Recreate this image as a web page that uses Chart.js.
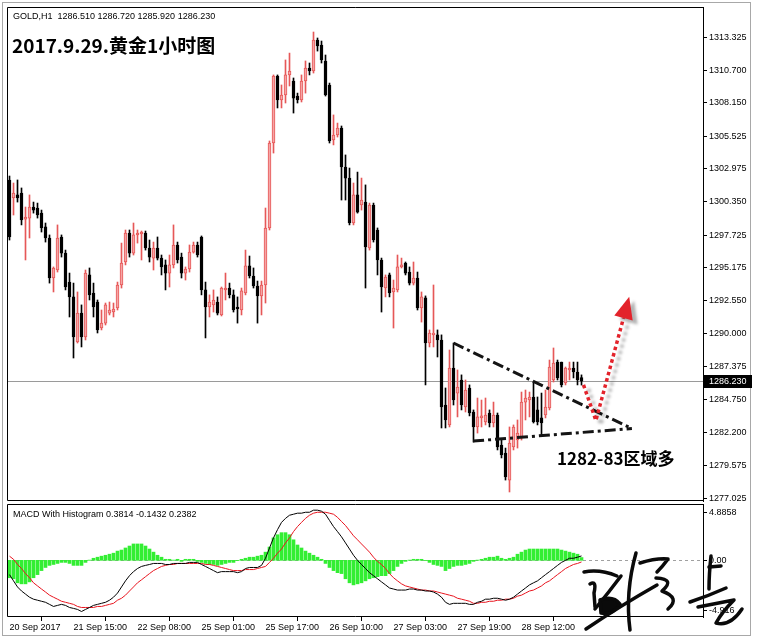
<!DOCTYPE html>
<html><head><meta charset="utf-8">
<script src="https://cdn.jsdelivr.net/npm/chart.js@4.4.1/dist/chart.umd.min.js"></script>
<style>
html,body{margin:0;padding:0;background:#fff;width:758px;height:644px;overflow:hidden}
#frame{position:absolute;left:2px;top:2px;width:749px;height:634px;border:1px solid #a8a8a8;box-sizing:border-box}
#w1{position:absolute;left:0;top:0;width:758px;height:502px}
#w2{position:absolute;left:0;top:502px;width:758px;height:142px}
</style></head><body>
<div id="frame"></div>
<div id="w1"><canvas id="c1"></canvas></div>
<div id="w2"><canvas id="c2"></canvas></div>
<script>
// ---------- DATA ----------
const opens = [1302.07,1300.65,1300.89,1301.04,1298.99,1299.07,1299.94,1299.86,1299.46,1298.37,
1297.50,1294.35,1294.98,1297.58,1296.31,1294.03,1292.86,1289.31,1291.59,1289.71,
1294.59,1293.17,1292.46,1290.41,1290.80,1291.59,1291.67,1291.99,1293.80,1295.61,
1297.89,1296.31,1297.74,1297.82,1297.89,1296.71,1295.92,1296.71,1295.92,1295.38,
1294.74,1295.38,1296.95,1296.00,1294.74,1295.06,1296.39,1296.95,1297.58,1293.41,
1292.07,1292.23,1292.46,1291.44,1293.41,1293.56,1293.02,1292.07,1291.83,1293.17,
1295.30,1294.51,1293.72,1292.94,1293.80,1298.29,1304.98,1310.26,1308.37,1308.76,
1310.34,1309.86,1308.68,1308.37,1309.86,1310.89,1310.65,1313.09,1312.70,1311.44,
1309.55,1305.22,1305.61,1306.16,1303.09,1302.22,1298.68,1300.89,1300.10,1300.33,
1296.71,1300.10,1298.13,1295.77,1293.56,1294.59,1293.25,1293.41,1295.22,1295.53,
1294.82,1293.95,1294.35,1291.99,1292.78,1289.23,1289.87,1289.87,1289.47,1284.35,
1282.78,1287.26,1285.29,1286.32,1284.19,1285.69,1283.80,1282.62,1283.33,1283.01,
1283.72,1282.93,1283.56,1281.20,1280.57,1278.44,1281.04,1281.59,1281.83,1284.58,
1284.74,1284.98,1283.96,1283.33,1283.56,1284.11,1286.32,1287.73,1287.73,1286.08,
1287.11,1287.26,1286.95,1286.51];
const highs = [1302.38,1301.83,1302.07,1301.44,1299.94,1300.89,1300.33,1300.25,1299.70,1298.68,
1297.74,1295.22,1298.53,1297.74,1296.55,1294.74,1293.95,1293.25,1292.23,1294.98,
1295.14,1293.95,1292.62,1291.83,1292.38,1292.46,1292.38,1294.03,1297.10,1298.13,
1298.13,1298.68,1298.13,1298.05,1298.05,1297.34,1297.18,1297.58,1296.16,1295.77,
1296.16,1298.53,1297.18,1296.31,1295.22,1296.95,1297.18,1297.18,1297.66,1294.03,
1293.02,1293.41,1292.86,1293.64,1294.74,1293.95,1293.41,1292.86,1293.56,1296.55,
1296.08,1295.14,1294.11,1294.11,1299.86,1305.14,1310.34,1310.34,1309.55,1311.52,
1312.06,1310.10,1308.91,1310.34,1311.44,1311.28,1313.72,1313.25,1313.01,1311.91,
1309.70,1307.19,1306.55,1306.32,1304.04,1303.01,1301.83,1302.69,1302.22,1301.68,
1300.25,1300.25,1298.29,1295.92,1294.59,1294.74,1294.19,1296.16,1295.92,1295.61,
1295.22,1295.61,1294.82,1293.25,1292.94,1290.26,1293.80,1290.26,1289.87,1285.69,
1288.68,1289.23,1287.11,1286.72,1286.32,1285.93,1283.96,1284.90,1284.74,1284.90,
1283.96,1284.58,1283.72,1281.59,1280.96,1282.62,1282.78,1283.17,1285.37,1285.53,
1285.37,1286.16,1284.98,1285.29,1285.53,1287.89,1288.84,1287.89,1287.73,1287.34,
1287.73,1287.73,1287.73,1286.72];
const lows = [1297.34,1299.31,1300.33,1298.53,1295.77,1297.50,1299.46,1299.07,1297.97,1297.18,
1293.95,1293.25,1294.82,1296.00,1293.41,1291.28,1288.05,1289.23,1288.92,1289.47,
1292.62,1291.28,1290.02,1290.26,1290.65,1291.44,1291.28,1291.83,1293.56,1295.38,
1296.00,1296.16,1297.10,1295.77,1296.55,1295.61,1294.98,1295.77,1294.59,1293.41,
1293.64,1295.14,1295.53,1294.35,1294.19,1294.82,1296.31,1296.00,1293.02,1289.63,
1291.28,1291.67,1291.44,1291.36,1292.62,1292.78,1291.67,1290.80,1291.44,1293.02,
1294.35,1293.56,1290.80,1291.44,1292.38,1298.13,1304.19,1307.74,1307.74,1308.13,
1309.47,1307.34,1308.13,1308.21,1308.91,1310.34,1310.49,1312.22,1311.28,1308.68,
1304.98,1304.83,1305.45,1300.49,1300.49,1298.53,1298.53,1299.46,1299.70,1293.56,
1296.55,1297.18,1294.59,1291.67,1292.86,1292.86,1290.41,1293.25,1295.14,1294.59,
1293.80,1293.80,1291.83,1290.88,1285.93,1288.92,1288.92,1288.13,1282.54,1282.54,
1282.62,1284.35,1283.41,1283.96,1283.80,1283.49,1281.43,1282.14,1282.62,1282.78,
1282.62,1282.62,1280.81,1280.18,1278.44,1277.50,1280.81,1280.96,1281.59,1283.17,
1283.41,1282.93,1282.78,1282.00,1283.33,1283.96,1286.16,1286.32,1285.77,1285.93,
1286.32,1286.48,1285.93,1285.92];
const closes = [1297.58,1301.04,1300.65,1298.92,1299.15,1299.94,1299.70,1299.31,1298.29,1297.50,
1294.35,1295.14,1297.50,1296.31,1293.64,1292.86,1289.71,1291.59,1289.71,1294.74,
1293.02,1292.07,1290.26,1290.80,1292.23,1291.83,1291.91,1293.80,1295.53,1297.89,
1296.31,1297.74,1297.89,1297.97,1296.71,1296.00,1296.71,1295.92,1295.22,1294.74,
1295.38,1296.95,1295.77,1294.74,1295.06,1296.39,1296.95,1296.16,1293.41,1292.07,
1292.46,1292.62,1291.59,1293.56,1293.56,1293.02,1291.83,1291.91,1293.33,1295.30,
1294.51,1293.72,1292.94,1293.80,1298.29,1304.98,1310.26,1308.37,1308.76,1310.34,
1310.65,1308.52,1308.37,1309.86,1310.89,1310.65,1313.09,1312.62,1311.52,1308.76,
1305.14,1305.61,1306.16,1303.09,1302.22,1298.68,1300.89,1299.54,1300.49,1296.79,
1300.10,1297.34,1295.77,1293.64,1294.43,1293.17,1293.56,1295.22,1295.38,1294.74,
1293.95,1294.35,1291.99,1292.86,1289.23,1290.02,1290.02,1289.47,1284.19,1283.17,
1287.26,1284.74,1285.77,1284.35,1285.53,1283.72,1282.62,1283.41,1283.49,1283.56,
1282.93,1283.56,1281.04,1280.42,1278.68,1281.35,1282.62,1282.14,1284.58,1284.90,
1284.98,1283.01,1283.01,1282.93,1284.19,1287.34,1287.65,1286.48,1285.93,1287.26,
1287.26,1286.95,1286.32,1286.23];

const macdLine = [-1.24,-1.78,-2.31,-2.66,-2.93,-3.20,-3.37,-3.46,-3.55,-3.64,
-3.82,-4.00,-3.91,-3.82,-3.91,-4.09,-4.17,-4.26,-4.44,-4.26,
-4.09,-3.91,-3.82,-3.73,-3.64,-3.46,-3.20,-2.84,-2.31,-1.78,
-1.33,-0.98,-0.71,-0.53,-0.44,-0.36,-0.27,-0.27,-0.27,-0.36,
-0.36,-0.27,-0.27,-0.27,-0.27,-0.18,-0.18,-0.18,-0.36,-0.53,
-0.71,-0.89,-1.07,-0.98,-0.98,-0.98,-0.98,-1.07,-0.98,-0.71,
-0.62,-0.62,-0.62,-0.44,0.18,1.07,1.95,2.66,3.29,3.64,
3.91,4.00,4.09,4.09,4.17,4.17,4.35,4.35,4.26,4.00,
3.46,2.93,2.49,2.04,1.51,0.98,0.44,0.00,-0.36,-0.71,
-1.07,-1.33,-1.60,-1.87,-2.13,-2.40,-2.49,-2.58,-2.58,-2.58,
-2.49,-2.49,-2.58,-2.58,-2.66,-2.66,-2.75,-2.93,-3.20,-3.64,
-3.82,-3.73,-3.73,-3.73,-3.73,-3.82,-3.82,-3.64,-3.55,-3.37,
-3.37,-3.29,-3.29,-3.37,-3.46,-3.37,-3.20,-2.93,-2.66,-2.40,
-2.13,-1.95,-1.78,-1.51,-1.24,-0.98,-0.71,-0.44,-0.18,0.00,
0.18,0.18,0.27,0.38];
const signalLine = [0.36,0.09,-0.36,-0.71,-1.15,-1.51,-1.95,-2.22,-2.49,-2.75,
-3.02,-3.20,-3.37,-3.55,-3.64,-3.73,-3.82,-4.00,-4.09,-4.09,
-4.09,-4.09,-4.00,-4.00,-3.91,-3.82,-3.73,-3.46,-3.29,-3.02,
-2.66,-2.31,-1.95,-1.69,-1.42,-1.15,-0.89,-0.71,-0.53,-0.44,
-0.36,-0.36,-0.27,-0.27,-0.27,-0.27,-0.27,-0.27,-0.27,-0.36,
-0.36,-0.44,-0.53,-0.62,-0.71,-0.80,-0.89,-0.89,-0.89,-0.80,
-0.80,-0.80,-0.71,-0.62,-0.53,-0.18,0.18,0.62,0.98,1.51,
1.95,2.49,2.93,3.29,3.64,3.91,4.09,4.17,4.17,4.17,
4.09,4.00,3.73,3.37,3.02,2.58,2.13,1.78,1.42,1.07,
0.71,0.27,-0.09,-0.36,-0.71,-1.15,-1.51,-1.78,-2.04,-2.22,
-2.31,-2.40,-2.49,-2.58,-2.58,-2.66,-2.66,-2.75,-2.84,-2.93,
-3.02,-3.11,-3.29,-3.37,-3.46,-3.55,-3.73,-3.73,-3.64,-3.64,
-3.55,-3.55,-3.46,-3.46,-3.37,-3.37,-3.29,-3.11,-3.02,-2.84,
-2.66,-2.58,-2.40,-2.22,-1.95,-1.78,-1.51,-1.24,-0.98,-0.71,
-0.53,-0.36,-0.27,-0.14];
const histogram = [-1.51,-1.60,-1.95,-2.04,-2.04,-1.87,-1.51,-1.24,-0.89,-0.62,
-0.44,-0.36,-0.27,-0.18,-0.18,-0.27,-0.44,-0.44,-0.44,-0.18,
0.02,0.18,0.27,0.36,0.44,0.53,0.62,0.80,0.89,1.07,
1.24,1.42,1.42,1.42,1.24,0.98,0.71,0.44,0.27,0.09,
0.09,0.02,0.09,-0.09,0.09,0.09,0.09,-0.09,-0.18,-0.27,
-0.36,-0.36,-0.44,-0.36,-0.27,-0.18,-0.18,-0.02,0.09,0.18,
0.27,0.27,0.36,0.44,0.71,1.15,1.95,2.22,2.40,2.40,
2.22,1.78,1.33,1.07,0.80,0.62,0.44,0.27,0.09,-0.27,
-0.62,-0.89,-1.07,-1.15,-1.60,-1.95,-2.13,-2.04,-1.95,-1.78,
-1.60,-1.51,-1.42,-1.33,-1.33,-1.15,-0.89,-0.53,-0.27,-0.09,
0.02,0.09,0.09,0.09,-0.02,-0.18,-0.36,-0.44,-0.53,-0.89,
-0.71,-0.53,-0.44,-0.44,-0.36,-0.27,-0.09,0.02,0.09,0.18,
0.27,0.27,0.36,0.18,0.09,0.18,0.27,0.53,0.71,0.89,
0.98,0.98,0.98,0.98,0.98,0.98,0.98,0.98,0.89,0.80,
0.71,0.62,0.53,0.24];

const priceTicks = [1313.325,1310.700,1308.150,1305.525,1302.975,1300.350,1297.725,1295.175,
1292.550,1290.000,1287.375,1284.750,1282.200,1279.575,1277.025];
const timeTickIndex = [0,16,32,48,64,80,96,112,128];
const timeTickLabels = ['20 Sep 2017','21 Sep 15:00','22 Sep 08:00','25 Sep 01:00','25 Sep 17:00',
'26 Sep 10:00','27 Sep 03:00','27 Sep 19:00','28 Sep 12:00'];
const lastPrice = 1286.230;
const headerText = 'GOLD,H1  1286.510 1286.720 1285.920 1286.230';
const titleText = '2017.9.29.黄金1小时图';
const noteText = '1282-83区域多';
const macdTitle = 'MACD With Histogram 0.3814 -0.1432 0.2382';
const macdMax = 4.8858, macdMin = -4.916;
const macdAxisLabels = ['4.8858', '0.00', '-4.916'];
const priceMin = 1276.79, priceMax = 1315.69;
const xMin = -0.625, xMax = 173.375;
// annotation anchors (bar index, price)
const trendUpper = [{x:111, y:1289.23}, {x:155.6, y:1282.50}];
const trendLower = [{x:115.9, y:1281.51}, {x:155.6, y:1282.50}];
const arrowPath = [{x:143.5, y:1285.93}, {x:146.6, y:1283.13}, {x:153.5, y:1291.20}];

// ---------- STYLE ----------
const FAM = '"Liberation Sans", Arial, sans-serif';
const SMALL = '9px ' + FAM;
const CJK = '"Noto Sans CJK SC", "Liberation Sans", sans-serif';
const BULL_FILL = '#f5a5a5', BULL_LINE = '#e65858', BEAR = '#000000';

const idx = opens.map((_, i) => i);
const bull = idx.map(i => closes[i] >= opens[i]);

const shadowPlugin = {
  id: 'shadow',
  beforeDatasetDraw(chart, args) {
    const ds = chart.data.datasets[args.index];
    if (ds.shadow) {
      const ctx = chart.ctx; ctx.save();
      ctx.shadowColor = 'rgba(0,0,0,0.30)'; ctx.shadowOffsetX = 5; ctx.shadowOffsetY = 4; ctx.shadowBlur = 3;
    }
  },
  afterDatasetDraw(chart, args) {
    const ds = chart.data.datasets[args.index];
    if (!ds.shadow) return;
    const ctx = chart.ctx;
    if (ds.arrowHead) {
      const pts = chart.getDatasetMeta(args.index).data;
      const p1 = pts[pts.length - 2], p2 = pts[pts.length - 1];
      const ang = Math.atan2(p2.y - p1.y, p2.x - p1.x);
      const L = 22, W = 9.5;
      const cx = Math.cos(ang), sy = Math.sin(ang);
      ctx.fillStyle = ds.borderColor;
      ctx.beginPath();
      ctx.moveTo(p2.x + L * cx, p2.y + L * sy);
      ctx.lineTo(p2.x - W * sy, p2.y + W * cx);
      ctx.lineTo(p2.x + W * sy, p2.y - W * cx);
      ctx.closePath(); ctx.fill();
    }
    ctx.restore();
  }
};

const pricePlugin = {
  id: 'priceDeco',
  beforeDatasetsDraw(chart) {
    const {ctx, chartArea: a, scales: {y}} = chart;
    const py = Math.round(y.getPixelForValue(lastPrice)) + 0.5;
    ctx.save(); ctx.strokeStyle = '#9a9a9a'; ctx.lineWidth = 1;
    ctx.beginPath(); ctx.moveTo(a.left, py); ctx.lineTo(a.right, py); ctx.stroke(); ctx.restore();
  },
  afterDraw(chart) {
    const {ctx, chartArea: a, scales: {y}} = chart;
    ctx.save();
    ctx.strokeStyle = '#000'; ctx.lineWidth = 1;
    ctx.beginPath();
    ctx.moveTo(a.right, a.top + 0.5); ctx.lineTo(a.left + 0.5, a.top + 0.5);
    ctx.lineTo(a.left + 0.5, a.bottom - 0.5); ctx.lineTo(a.right, a.bottom - 0.5); ctx.stroke();
    const py = Math.round(y.getPixelForValue(lastPrice));
    ctx.fillStyle = '#000'; ctx.fillRect(a.right, py - 6, 49, 13);
    ctx.fillStyle = '#fff'; ctx.font = SMALL; ctx.textBaseline = 'middle'; ctx.textAlign = 'left';
    ctx.fillText(lastPrice.toFixed(3), a.right + 6, py + 0.5);
    ctx.fillStyle = '#000'; ctx.textBaseline = 'alphabetic';
    ctx.font = SMALL; ctx.fillText(headerText, 13, 19);
    ctx.font = 'bold 19px ' + CJK; ctx.fillText(titleText, 12, 53);
    ctx.font = 'bold 17px ' + CJK; ctx.fillText(noteText, 557, 465);
    ctx.restore();
  }
};

// signature strokes (decorative handwriting), page coordinates
const signature = [
  [['M',584,572],['Q',600,569,617,576]],
  [['M',590,584],['Q',597,580,594,593],['L',595,607]],
  [['M',595,609],['Q',609,592,621,576]],
  [['M',600,600],['Q',613,595,620,604],['Q',613,615,601,613],['Z']],
  [['M',636,553],['Q',625,592,630,630]],
  [['M',586,629],['Q',620,606,657,585]],
  [['M',640,563],['Q',656,558,668,559],['Q',663,566,657,572]],
  [['M',656,578],['Q',676,579,662,591],['Q',681,598,668,609]],
  [['M',711,556],['Q',709,574,709,589]],
  [['M',709,567],['L',721,566]],
  [['M',690,602],['Q',708,596,726,588]],
  [['M',698,607],['L',734,600],['Q',722,612,716,623],['Q',730,627,742,609]]
];

const macdPlugin = {
  id: 'macdDeco',
  beforeDatasetsDraw(chart) {
    const {ctx, chartArea: a, scales: {y}} = chart;
    const y0 = Math.round(y.getPixelForValue(0)) + 0.5;
    ctx.save(); ctx.strokeStyle = '#a0a0a0'; ctx.lineWidth = 1; ctx.setLineDash([3, 3]);
    ctx.beginPath(); ctx.moveTo(a.left, y0); ctx.lineTo(a.right, y0); ctx.stroke(); ctx.restore();
  },
  afterDraw(chart) {
    const {ctx, chartArea: a, scales: {y}} = chart;
    ctx.save();
    ctx.strokeStyle = '#000'; ctx.lineWidth = 1;
    ctx.beginPath();
    ctx.moveTo(a.right, a.top + 0.5); ctx.lineTo(a.left + 0.5, a.top + 0.5);
    ctx.lineTo(a.left + 0.5, a.bottom - 0.5); ctx.lineTo(a.right, a.bottom - 0.5); ctx.stroke();
    ctx.fillStyle = '#000'; ctx.font = SMALL; ctx.textAlign = 'left';
    ctx.textBaseline = 'alphabetic';
    ctx.fillText(macdTitle, 13, a.top + 13);
    const ys = [a.top + 8, Math.round(y.getPixelForValue(0)), a.bottom - 7];
    ctx.textBaseline = 'middle';
    ys.forEach((yy, k) => {
      ctx.beginPath(); ctx.moveTo(a.right, yy + 0.5); ctx.lineTo(a.right + 4, yy + 0.5); ctx.stroke();
      ctx.fillText(macdAxisLabels[k], a.right + 6, yy + 0.5);
    });
    // signature
    ctx.strokeStyle = '#0a0a0a'; ctx.fillStyle = '#0a0a0a'; ctx.lineWidth = 3.5;
    ctx.lineCap = 'round'; ctx.lineJoin = 'round';
    const off = 502;
    signature.forEach(st => {
      ctx.beginPath(); let closed = false;
      st.forEach(c => {
        if (c[0] === 'M') ctx.moveTo(c[1], c[2] - off);
        else if (c[0] === 'L') ctx.lineTo(c[1], c[2] - off);
        else if (c[0] === 'Q') ctx.quadraticCurveTo(c[1], c[2] - off, c[3], c[4] - off);
        else if (c[0] === 'Z') { ctx.closePath(); closed = true; }
      });
      if (closed) ctx.fill();
      ctx.stroke();
    });
    ctx.restore();
  }
};

const barCommon = { grouped: false, categoryPercentage: 1, barPercentage: 1 };

new Chart(document.getElementById('c1'), {
  type: 'bar',
  data: { datasets: [
    { type: 'line', label: 'arrow', data: arrowPath, borderColor: '#e3232b', borderWidth: 3.5,
      borderDash: [3.5, 3], borderCapStyle: 'butt', pointRadius: 0, tension: 0, order: 1, shadow: true, arrowHead: true },
    { type: 'line', label: 'upper', data: trendUpper, borderColor: '#141414', borderWidth: 3,
      borderDash: [11, 4, 3, 4], pointRadius: 0, order: 2 },
    { type: 'line', label: 'lower', data: trendLower, borderColor: '#141414', borderWidth: 3,
      borderDash: [11, 4, 3, 4], pointRadius: 0, order: 2 },
    Object.assign({ label: 'body', data: idx.map(i => ({x: i, y: [Math.min(opens[i], closes[i]), Math.max(opens[i], closes[i])]})),
      backgroundColor: idx.map(i => bull[i] ? BULL_FILL : BEAR), borderColor: idx.map(i => bull[i] ? BULL_LINE : BEAR),
      borderWidth: 1, borderSkipped: false, maxBarThickness: 3, minBarLength: 1, order: 5 }, barCommon),
    Object.assign({ label: 'wick', data: idx.map(i => ({x: i, y: [lows[i], highs[i]]})),
      backgroundColor: idx.map(i => bull[i] ? BULL_LINE : BEAR), borderWidth: 0, maxBarThickness: 1, order: 6 }, barCommon)
  ]},
  options: {
    responsive: true, maintainAspectRatio: false, animation: false, events: [],
    layout: { padding: { left: 7, top: 7, right: 0, bottom: 1 } },
    plugins: { legend: { display: false }, tooltip: { enabled: false } },
    scales: {
      x: { type: 'linear', min: xMin, max: xMax, display: false, offset: false },
      y: { type: 'linear', position: 'right', min: priceMin, max: priceMax,
        afterBuildTicks: s => { s.ticks = priceTicks.map(v => ({value: v})); },
        afterFit: s => { s.width = 55; s.paddingTop = 0; s.paddingBottom = 0; },
        ticks: { autoSkip: false, font: { family: FAM, size: 9 }, color: '#000', padding: 2,
          callback: v => Number(v).toFixed(3) },
        grid: { display: true, drawOnChartArea: false, drawTicks: true, tickLength: 4, color: '#000' },
        border: { display: true, color: '#000' } }
    }
  },
  plugins: [shadowPlugin, pricePlugin]
});

new Chart(document.getElementById('c2'), {
  type: 'bar',
  data: { datasets: [
    { type: 'line', label: 'MACD', data: macdLine.map((v, i) => ({x: i, y: v})), borderColor: '#000', borderWidth: 1,
      pointRadius: 0, tension: 0, order: 1 },
    { type: 'line', label: 'Signal', data: signalLine.map((v, i) => ({x: i, y: v})), borderColor: '#e8141e', borderWidth: 1,
      pointRadius: 0, tension: 0, order: 2 },
    Object.assign({ label: 'Histogram', data: histogram.map((v, i) => ({x: i, y: v})), backgroundColor: '#33ee33',
      borderWidth: 0, maxBarThickness: 3, order: 3 }, barCommon)
  ]},
  options: {
    responsive: true, maintainAspectRatio: false, animation: false, events: [],
    layout: { padding: { left: 7, top: 2, right: 0, bottom: 0 } },
    plugins: { legend: { display: false }, tooltip: { enabled: false } },
    scales: {
      x: { type: 'linear', min: xMin, max: xMax, position: 'bottom', offset: false,
        afterBuildTicks: s => { s.ticks = timeTickIndex.map(v => ({value: v})); },
        afterFit: s => { s.height = 27; s.paddingLeft = 0; s.paddingRight = 0; },
        ticks: { autoSkip: false, maxRotation: 0, minRotation: 0, align: 'start', padding: 1,
          font: { family: FAM, size: 9 }, color: '#000',
          callback: v => { const k = timeTickIndex.indexOf(v); return k >= 0 ? timeTickLabels[k] : ''; } },
        grid: { display: true, drawOnChartArea: false, drawTicks: true, tickLength: 4, color: '#000' },
        border: { display: false } },
      y: { type: 'linear', position: 'right', min: macdMin, max: macdMax,
        afterFit: s => { s.width = 55; s.paddingTop = 0; s.paddingBottom = 0; },
        ticks: { display: false }, grid: { display: false },
        border: { display: true, color: '#000' } }
    }
  },
  plugins: [macdPlugin]
});
</script>
</body></html>
